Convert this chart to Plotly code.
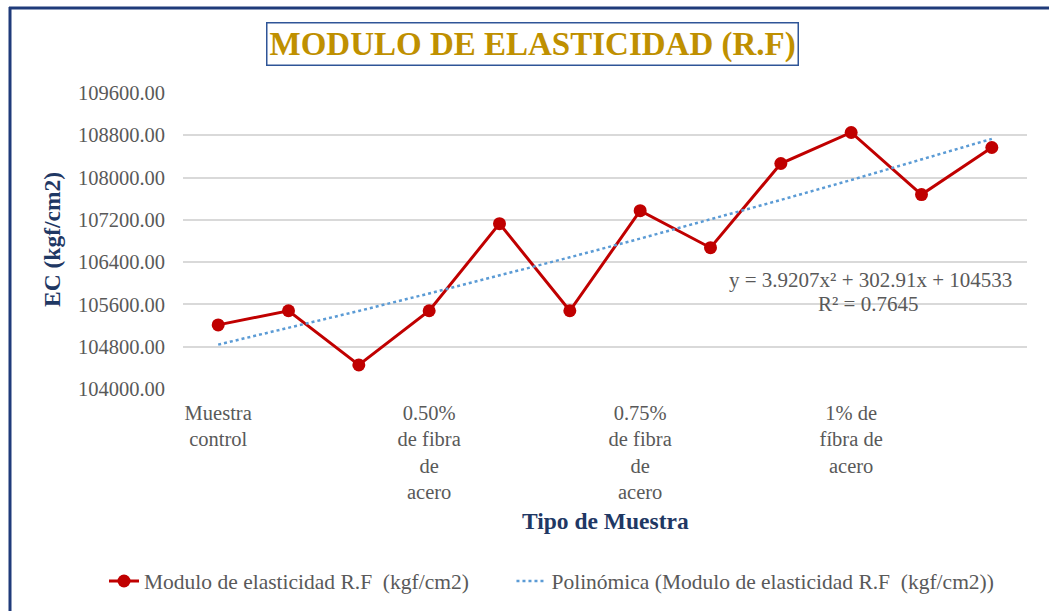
import numpy as np
import plotly.graph_objects as go

# ---- data ----
x_pos = [1, 2, 3, 4, 5, 6, 7, 8, 9, 10, 11, 12]
ec_values = [105213, 105480, 104455, 105480, 107128, 105480,
             107374, 106673, 108266, 108853, 107678, 108569]
tick_positions = [1, 4, 7, 10]
tick_labels = ["Muestra<br>control",
               "0.50%<br>de fibra<br>de<br>acero",
               "0.75%<br>de fibra<br>de<br>acero",
               "1% de<br>fíbra de<br>acero"]
trend_coefs = [3.9207, 302.91, 104533]  # y = a x^2 + b x + c (from chart)

trend_y = np.polyval(trend_coefs, x_pos)

FONT = "Liberation Serif"
GRAY = "#595959"
NAVY = "#1F3864"

# plot area in pixels
W, H = 1049, 611
L, R, T, B = 183, 22, 93, 222
PW, PH = W - L - R, H - T - B


def px(xp):
    return (xp - L) / PW


def py(yp):
    return (H - B - yp) / PH


fig = go.Figure()
fig.add_trace(go.Scatter(
    x=x_pos, y=ec_values, mode="lines+markers",
    name="Modulo de elasticidad R.F  (kgf/cm2)" + "\u00a0" * 7,
    line=dict(color="#C00000", width=3),
    marker=dict(color="#C00000", size=13),
))
fig.add_trace(go.Scatter(
    x=x_pos, y=trend_y, mode="lines",
    name="Polinómica (Modulo de elasticidad R.F  (kgf/cm2))",
    line=dict(color="#5B9BD5", width=2.5, dash="dot"),
))

TICK = 20.5
fig.update_layout(
    width=W, height=H,
    margin=dict(l=L, r=R, t=T, b=B, autoexpand=False),
    paper_bgcolor="white", plot_bgcolor="white",
    font=dict(family=FONT, size=TICK, color=GRAY),
    showlegend=True,
    legend=dict(orientation="h", x=px(104), xanchor="left",
                y=py(581), yanchor="middle",
                font=dict(family=FONT, size=21.5, color=GRAY),
                bgcolor="rgba(0,0,0,0)"),
    xaxis=dict(range=[0.5, 12.5], tickvals=tick_positions, ticktext=tick_labels,
               showgrid=False, zeroline=False, showline=False, ticks="",
               ticklabelstandoff=9, automargin=False,
               tickfont=dict(family=FONT, size=TICK, color=GRAY)),
    yaxis=dict(range=[104000, 109600], dtick=800, tick0=104000,
               tickformat=".2f", separatethousands=False,
               showgrid=True, gridcolor="#D9D9D9", gridwidth=1.5,
               zeroline=False, showline=False, ticks="",
               ticklabelstandoff=17, automargin=False,
               tickfont=dict(family=FONT, size=TICK, color=GRAY)),
)

common = dict(xref="paper", yref="paper", showarrow=False,
              xanchor="center", yanchor="middle")
annotations = [
    dict(text="<b>MODULO DE ELASTICIDAD (R.F)</b>", x=px(532), y=py(44),
         font=dict(family=FONT, size=33, color="#BF9000"),
         bordercolor="#2F5597", borderwidth=1.5, borderpad=2, bgcolor="white",
         **common),
    dict(text="<b>Tipo de Muestra</b>", x=px(605), y=py(521),
         font=dict(family=FONT, size=23.5, color=NAVY), **common),
    dict(text="<b>EC (kgf/cm2)</b>", x=px(52), y=py(240), textangle=-90,
         font=dict(family=FONT, size=23.5, color=NAVY), **common),
    dict(text="y = 3.9207x² + 302.91x + 104533", x=px(870), y=py(280),
         font=dict(family=FONT, size=21, color=GRAY), **common),
    dict(text="R² = 0.7645", x=px(868), y=py(304),
         font=dict(family=FONT, size=21, color=GRAY), **common),
]
fig.update_layout(annotations=annotations)

# outer chart border (top and left visible)
fig.add_shape(type="line", xref="paper", yref="paper",
              x0=px(9), x1=px(W + 5), y0=py(8), y1=py(8),
              line=dict(color="#1F3B7A", width=3))
fig.add_shape(type="line", xref="paper", yref="paper",
              x0=px(10), x1=px(10), y0=py(7), y1=py(H + 5),
              line=dict(color="#1F3B7A", width=3))

fig.write_html("out.html", config={"displayModeBar": False},
               post_script="document.body.style.margin='0';document.body.style.padding='0';")
